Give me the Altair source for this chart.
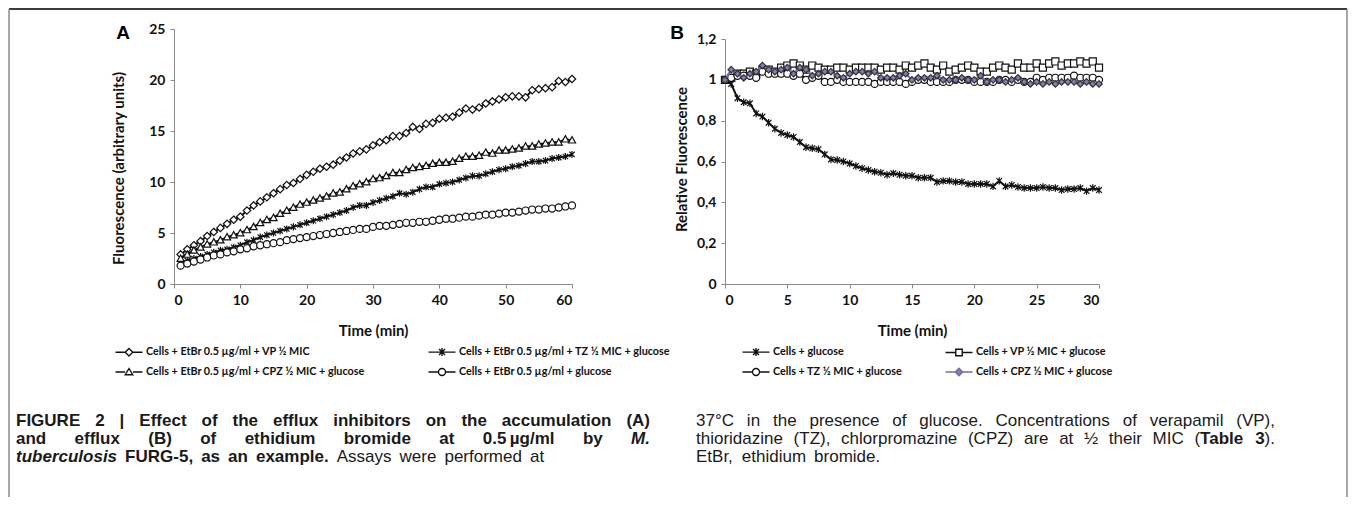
import altair as alt
import pandas as pd

# ---------------- data ----------------
t_a = list(range(1, 61))
a_vp = [2.9, 3.4, 3.8, 4.2, 4.7, 5.1, 5.5, 5.9, 6.3, 6.6,
        7.2, 7.7, 8.1, 8.5, 8.9, 9.3, 9.7, 9.9, 10.3, 10.7,
        11.0, 11.3, 11.5, 11.7, 12.1, 12.4, 12.8, 13.0, 13.2, 13.6,
        13.9, 14.1, 14.5, 14.5, 14.8, 15.4, 15.2, 15.7, 15.8, 16.2,
        16.3, 16.4, 16.8, 17.2, 17.1, 17.3, 17.7, 17.9, 18.1, 18.3,
        18.4, 18.4, 18.3, 19.0, 19.1, 19.2, 19.3, 19.9, 19.8, 20.1]
a_tz = [2.1, 2.3, 2.5, 2.7, 2.9, 3.1, 3.3, 3.4, 3.6, 3.8,
        4.1, 4.3, 4.6, 4.8, 5.0, 5.2, 5.4, 5.6, 5.8, 6.0,
        6.2, 6.4, 6.6, 6.8, 7.0, 7.2, 7.5, 7.7, 7.7, 8.0,
        8.2, 8.4, 8.6, 8.9, 8.8, 9.0, 9.3, 9.5, 9.5, 9.8,
        9.9, 10.0, 10.2, 10.4, 10.6, 10.6, 10.8, 11.0, 11.2, 11.3,
        11.5, 11.6, 11.8, 12.0, 12.0, 12.1, 12.3, 12.4, 12.5, 12.7]
a_cpz = [2.5, 2.9, 3.3, 3.6, 3.9, 4.1, 4.3, 4.6, 4.8, 5.0,
         5.3, 5.6, 6.0, 6.3, 6.5, 6.9, 7.2, 7.5, 7.8, 8.0,
         8.2, 8.4, 8.6, 8.9, 9.0, 9.3, 9.6, 9.8, 10.0, 10.3,
         10.4, 10.6, 10.9, 10.9, 11.2, 11.4, 11.5, 11.6, 11.8, 11.9,
         11.9, 12.0, 12.3, 12.5, 12.5, 12.6, 12.9, 12.8, 13.1, 13.1,
         13.2, 13.3, 13.5, 13.5, 13.7, 13.8, 13.9, 13.9, 14.2, 14.1]
a_glu = [1.8, 2.0, 2.2, 2.4, 2.6, 2.8, 2.9, 3.1, 3.2, 3.4,
         3.5, 3.7, 3.8, 3.9, 4.0, 4.1, 4.3, 4.4, 4.5, 4.6,
         4.7, 4.8, 4.9, 5.0, 5.1, 5.2, 5.3, 5.4, 5.4, 5.6,
         5.7, 5.7, 5.8, 5.9, 6.0, 6.0, 6.1, 6.1, 6.2, 6.3,
         6.4, 6.4, 6.5, 6.6, 6.6, 6.7, 6.8, 6.8, 6.9, 7.0,
         7.0, 7.1, 7.2, 7.3, 7.3, 7.4, 7.4, 7.5, 7.6, 7.7]

t_b = [i / 2 for i in range(61)]
b_glu = [1.00, 0.98, 0.91, 0.89, 0.885, 0.835, 0.82, 0.79, 0.76, 0.74,
         0.73, 0.72, 0.695, 0.67, 0.665, 0.66, 0.635, 0.61, 0.607, 0.60,
         0.59, 0.578, 0.567, 0.558, 0.55, 0.545, 0.535, 0.542, 0.535, 0.53,
         0.53, 0.52, 0.52, 0.52, 0.50, 0.505, 0.505, 0.50, 0.50, 0.49,
         0.49, 0.49, 0.49, 0.478, 0.505, 0.478, 0.485, 0.475, 0.47, 0.47,
         0.47, 0.475, 0.47, 0.47, 0.46, 0.465, 0.465, 0.47, 0.455, 0.47,
         0.46]
b_vp = [1.00, 1.01, 1.03, 1.03, 1.04, 1.03, 1.05, 1.05, 1.04, 1.06,
        1.07, 1.08, 1.07, 1.05, 1.07, 1.06, 1.05, 1.05, 1.06, 1.06,
        1.05, 1.06, 1.06, 1.06, 1.06, 1.05, 1.06, 1.06, 1.05, 1.07,
        1.06, 1.07, 1.08, 1.06, 1.05, 1.07, 1.04, 1.05, 1.06, 1.07,
        1.06, 1.04, 1.04, 1.06, 1.07, 1.06, 1.05, 1.08, 1.06, 1.06,
        1.08, 1.06, 1.08, 1.09, 1.07, 1.08, 1.08, 1.09, 1.08, 1.09,
        1.06]
b_tz = [1.00, 1.01, 1.02, 1.02, 1.02, 1.01, 1.04, 1.03, 1.03, 1.03,
        1.03, 1.02, 1.03, 1.00, 1.01, 1.02, 0.99, 0.99, 1.00, 0.99,
        0.99, 0.99, 0.99, 0.99, 0.98, 0.99, 0.99, 0.99, 0.99, 0.98,
        0.99, 1.00, 1.00, 0.99, 0.99, 0.99, 0.99, 1.00, 1.00, 1.00,
        0.99, 0.99, 0.99, 0.99, 1.00, 1.00, 0.99, 1.00, 0.99, 0.99,
        1.01, 1.00, 1.01, 1.01, 1.01, 1.01, 1.02, 1.01, 1.01, 1.01,
        1.00]
b_cpz = [1.00, 1.05, 1.03, 1.01, 1.03, 1.04, 1.07, 1.05, 1.04, 1.05,
         1.06, 1.03, 1.06, 1.05, 1.02, 1.03, 1.04, 1.04, 1.02, 1.01,
         1.03, 1.04, 1.04, 1.03, 1.04, 1.01, 1.01, 1.01, 1.02, 1.03,
         1.00, 1.01, 1.01, 1.01, 1.02, 1.00, 1.00, 1.00, 1.01, 1.00,
         1.00, 1.02, 0.99, 1.00, 1.00, 0.99, 1.00, 1.01, 0.99, 0.98,
         0.99, 0.98, 0.99, 0.98, 0.99, 0.99, 0.99, 0.98, 0.99, 0.98,
         0.98]

names_a = ["Cells + EtBr 0.5 µg/ml + VP ½ MIC",
           "Cells + EtBr 0.5 µg/ml + TZ ½ MIC + glucose",
           "Cells + EtBr 0.5 µg/ml + CPZ ½ MIC + glucose",
           "Cells + EtBr 0.5 µg/ml + glucose"]
names_b = ["Cells + glucose",
           "Cells + VP ½ MIC + glucose",
           "Cells + TZ ½ MIC + glucose",
           "Cells + CPZ ½ MIC + glucose"]

ticks_a_x = [0, 10, 20, 30, 40, 50, 60]
ticks_a_y = [0, 5, 10, 15, 20, 25]
ticks_b_x = [0, 5, 10, 15, 20, 25, 30]
ticks_b_y = [0, 0.2, 0.4, 0.6, 0.8, 1.0, 1.2]

# caption text: lines of words, each word a list of (text, style) pieces
# styles: b = bold, bi = bold italic, n = normal
cap_left = [
    [[("FIGURE", "b")], [("2", "b")], [("|", "b")], [("Effect", "b")], [("of", "b")],
     [("the", "b")], [("efflux", "b")], [("inhibitors", "b")], [("on", "b")],
     [("the", "b")], [("accumulation", "b")], [("(A)", "b")]],
    [[("and", "b")], [("efflux", "b")], [("(B)", "b")], [("of", "b")], [("ethidium", "b")],
     [("bromide", "b")], [("at", "b")], [("0.5\u2009µg/ml", "b")], [("by", "b")], [("M.", "bi")]],
    [[("tuberculosis", "bi")], [("FURG-5,", "b")], [("as", "b")], [("an", "b")],
     [("example.", "b")], [("Assays", "n")], [("were", "n")], [("performed", "n")], [("at", "n")]],
]
cap_right = [
    [[("37°C", "n")], [("in", "n")], [("the", "n")], [("presence", "n")], [("of", "n")],
     [("glucose.", "n")], [("Concentrations", "n")], [("of", "n")], [("verapamil", "n")],
     [("(VP),", "n")]],
    [[("thioridazine", "n")], [("(TZ),", "n")], [("chlorpromazine", "n")], [("(CPZ)", "n")],
     [("are", "n")], [("at", "n")], [("½", "n")], [("their", "n")], [("MIC", "n")],
     [("(", "n"), ("Table", "b")], [("3", "b"), (").", "n")]],
    [[("EtBr,", "n")], [("ethidium", "n")], [("bromide.", "n")]],
]

# ---------------- helpers ----------------
REG = {' ': 278, '(': 333, ')': 333, ',': 278, '-': 333, '.': 278, '/': 278, '|': 260,
       '°': 400, '½': 834, 'µ': 556, '\u2009': 170,
       'A': 667, 'B': 667, 'C': 722, 'D': 722, 'E': 667, 'F': 611, 'G': 778, 'H': 722,
       'I': 278, 'J': 500, 'K': 667, 'L': 556, 'M': 833, 'N': 722, 'O': 778, 'P': 667,
       'Q': 778, 'R': 722, 'S': 667, 'T': 611, 'U': 722, 'V': 667, 'W': 944, 'X': 667,
       'Y': 667, 'Z': 611,
       'a': 556, 'b': 556, 'c': 500, 'd': 556, 'e': 556, 'f': 278, 'g': 556, 'h': 556,
       'i': 222, 'j': 222, 'k': 500, 'l': 222, 'm': 833, 'n': 556, 'o': 556, 'p': 556,
       'q': 556, 'r': 333, 's': 500, 't': 278, 'u': 556, 'v': 500, 'w': 722, 'x': 500,
       'y': 500, 'z': 500}
BOLD = dict(REG)
BOLD.update({'|': 280, 'µ': 611,
             'A': 722, 'B': 722, 'J': 556, 'K': 722, 'L': 611,
             'b': 611, 'c': 556, 'd': 611, 'f': 333, 'g': 611, 'h': 611, 'i': 278,
             'j': 278, 'k': 556, 'l': 278, 'm': 889, 'n': 611, 'o': 611, 'p': 611,
             'q': 611, 'r': 389, 's': 556, 't': 333, 'u': 611, 'v': 556, 'w': 778,
             'x': 556, 'y': 556})

CAP_FONT = "Liberation Sans"
CAP_FS = 17.0


def tw(s, style, fs=CAP_FS):
    tab = REG if style == "n" else BOLD
    return sum(tab.get(c, 556) for c in s) * fs / 1000.0


def layout(lines, x0, x1, y0, lh):
    rows = []
    for li, words in enumerate(lines):
        widths = [sum(tw(t, s) for t, s in w) for w in words]
        last = li == len(lines) - 1
        if not last and len(words) > 1:
            gap = (x1 - x0 - sum(widths)) / (len(words) - 1)
        else:
            gap = tw(" ", "n") * 1.7
        x = x0
        for w, wd in zip(words, widths):
            xx = x
            for t, s in w:
                rows.append({"w": t, "px": xx, "py": y0 + li * lh, "st": s})
                xx += tw(t, s)
            x += wd + gap
    return rows


def long_df(t, series, names):
    rows = []
    for name, vals in zip(names, series):
        for ti, v in zip(t, vals):
            rows.append({"t": ti, "v": v, "series": name})
    return pd.DataFrame(rows)


df_a = long_df(t_a, [a_vp, a_tz, a_cpz, a_glu], names_a)
df_b = long_df(t_b, [b_glu, b_vp, b_tz, b_cpz], names_b)

# panel A origin on page: (174, 29); panel B origin (725, 29)
AX, AY = 174, 29
BX = 725
words = layout(cap_left, 16 - AX, 650 - AX, 426 - AY, 18) + \
        layout(cap_right, 696 - AX, 1275 - AX, 426 - AY, 18)
df_words = pd.DataFrame(words)
one = pd.DataFrame({"k": [0]})

# marker shapes
DIAMOND = "M0,-1L1,0L0,1L-1,0Z"
STAR = "M-0.8,-0.8L0.8,0.8M-0.8,0.8L0.8,-0.8M0,-1.05V1.05"
TRI = "M0,-1L1,0.8L-1,0.8Z"
SQUARE = "M-1,-1H1V1H-1Z"
LINE = "M-2.7,0H-0.8M0.8,0H2.7"
LEG_DIAMOND = LINE + "M0,-0.75L0.75,0L0,0.75L-0.75,0Z"
LEG_STAR = "M-2.7,0H2.7M-0.6,-0.6L0.6,0.6M-0.6,0.6L0.6,-0.6M0,-0.8V0.8"
LEG_TRI = LINE + "M0,-0.7L0.75,0.55L-0.75,0.55Z"
LEG_CIRCLE = LINE + "M0.7,0A0.7,0.7 0 1,1 -0.7,0A0.7,0.7 0 1,1 0.7,0Z"
LEG_SQUARE = LINE + "M-0.65,-0.65H0.65V0.65H-0.65Z"

PURPLE = "#8a78b8"
styles_a = [
    dict(shape=DIAMOND, size=55, fill="white", stroke="#111111", line="#111111", leg=LEG_DIAMOND),
    dict(shape=STAR, size=45, fill="white", stroke="#111111", line="#111111", leg=LEG_STAR),
    dict(shape=TRI, size=50, fill="white", stroke="#111111", line="#111111", leg=LEG_TRI),
    dict(shape="circle", size=50, fill="white", stroke="#111111", line="#111111", leg=LEG_CIRCLE),
]
styles_b = [
    dict(shape=STAR, size=50, fill="white", stroke="#111111", line="#111111", leg=LEG_STAR),
    dict(shape=SQUARE, size=50, fill="white", stroke="#111111", line="#111111", leg=LEG_SQUARE),
    dict(shape="circle", size=50, fill="white", stroke="#111111", line="#111111", leg=LEG_CIRCLE),
    dict(shape=DIAMOND, size=42, fill=PURPLE, stroke="#333333", line="#7a6a9e", leg=LEG_DIAMOND),
]


def make_panel(df, names, styles, xdom, xticks, ydom, yticks, yrange, ytitle,
               ytx, yty, yexpr, legx, legy, colpad):
    xaxis = alt.Axis(values=xticks, title="Time (min)", titleY=46, titleBaseline="middle")
    yargs = dict(values=yticks, title=ytitle, titleX=ytx, titleY=yty,
                 titleBaseline="middle", titleAlign="center")
    if yexpr:
        yargs.update(format=".1~f", labelExpr=yexpr)
    yaxis = alt.Axis(**yargs)
    if yrange:
        yscale = alt.Scale(domain=ydom, nice=False, zero=False, range=yrange)
    else:
        yscale = alt.Scale(domain=ydom, nice=False, zero=False)
    X = alt.X("t:Q", scale=alt.Scale(domain=xdom, nice=False, zero=False), axis=xaxis)
    Y = alt.Y("v:Q", scale=yscale, axis=yaxis)
    base = alt.Chart(df)
    layers = []
    for name, st in zip(names, styles):
        sub = base.transform_filter(alt.datum.series == name)
        layers.append(sub.mark_line(color=st["line"], strokeWidth=2).encode(x=X, y=Y))
        layers.append(sub.mark_point(shape=st["shape"], size=st["size"], filled=True,
                                     fill=st["fill"], stroke=st["stroke"], strokeWidth=1.2,
                                     opacity=1).encode(x=X, y=Y))
    leg = alt.Legend(title=None, orient="none", legendX=legx, legendY=legy, columns=2,
                     direction="horizontal",
                     columnPadding=colpad, rowPadding=6, symbolSize=100,
                     symbolStrokeWidth=1.4, labelFont="Lato", labelFontSize=10.8,
                     labelFontWeight="bold", labelColor="#111111", labelOffset=11,
                     labelLimit=400)
    layers.append(
        base.transform_filter("false").mark_point(filled=True, opacity=1, strokeWidth=1.4).encode(
            x=X, y=Y,
            shape=alt.Shape("series:N", scale=alt.Scale(domain=names, range=[s["leg"] for s in styles]), legend=leg),
            fill=alt.Fill("series:N", scale=alt.Scale(domain=names, range=[s["fill"] for s in styles]), legend=leg),
            stroke=alt.Stroke("series:N", scale=alt.Scale(domain=names, range=[s["line"] if s["fill"] != "white" else s["stroke"] for s in styles]), legend=leg),
        )
    )
    return layers


layers_a = make_panel(df_a, names_a, styles_a, [0, 60], ticks_a_x, [0, 25], ticks_a_y, None,
                      "Fluorescence (arbitrary units)", -56, 139, None,
                      123 - AX, 346 - AY, 60)
layers_b = make_panel(df_b, names_b, styles_b, [0, 30], ticks_b_x, [0, 1.2], ticks_b_y, [255, 10],
                      "Relative Fluorescence", -44, 130, "replace(datum.label, '.', ',')",
                      750 - BX, 346 - AY, 40)

# panel letters
lab_a = alt.Chart(one).mark_text(text="A", font="Liberation Sans", fontSize=19, fontWeight="bold",
                                 align="center", baseline="middle", color="black").encode(
    x=alt.value(123 - AX), y=alt.value(33 - AY))
lab_b = alt.Chart(one).mark_text(text="B", font="Liberation Sans", fontSize=19, fontWeight="bold",
                                 align="center", baseline="middle", color="black").encode(
    x=alt.value(677 - BX), y=alt.value(33 - AY))

# caption
cap_layers = []
for st, weight, fstyle in [("b", "bold", "normal"), ("bi", "bold", "italic"), ("n", "normal", "normal")]:
    cap_layers.append(
        alt.Chart(df_words).transform_filter(alt.datum.st == st).mark_text(
            font=CAP_FONT, fontSize=CAP_FS, fontWeight=weight, fontStyle=fstyle,
            align="left", baseline="alphabetic", color="#1a1a1a").encode(
            x=alt.X("px:Q", scale=None), y=alt.Y("py:Q", scale=None), text="w:N"))

# frame
fl, fr, ft, fb = 9 - AX, 1347 - AX, 9 - AY, 497 - AY
frame = [
    alt.Chart(one).mark_rule(color="#3a3a3a", strokeWidth=2).encode(
        x=alt.value(fl), x2=alt.value(fr), y=alt.value(ft)),
    alt.Chart(one).mark_rule(color="#8a8a8a", strokeWidth=1.5).encode(
        x=alt.value(fl), y=alt.value(ft), y2=alt.value(fb)),
    alt.Chart(one).mark_rule(color="#8a8a8a", strokeWidth=1.5).encode(
        x=alt.value(fr), y=alt.value(ft), y2=alt.value(fb)),
]

panel_a = alt.layer(*layers_a, lab_a, *cap_layers, *frame).properties(width=398, height=255)
panel_b = alt.layer(*layers_b, lab_b).properties(width=374, height=255)

chart = alt.hconcat(panel_a, panel_b, spacing=153, bounds="flush").resolve_scale(
    shape="independent", fill="independent", stroke="independent"
).properties(padding=0).configure_view(stroke=None).configure_axis(
    grid=False, domainColor="#8a8a8a", tickColor="#8a8a8a", tickSize=4,
    labelFont="Lato", labelFontWeight="bold", labelFontSize=14, labelColor="#111111",
    labelPadding=5, titleFont="Lato", titleFontWeight="bold", titleFontSize=15,
    titleColor="#111111"
)

chart.save("out.html", embed_options={"renderer": "svg", "actions": False})
